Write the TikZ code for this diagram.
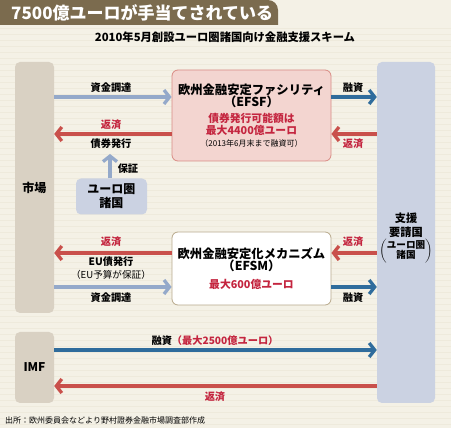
\documentclass[tikz,border=0pt]{standalone}
\usepackage{fontspec}
\setmainfont{Noto Sans CJK JP}
\usetikzlibrary{arrows.meta,positioning}
\definecolor{paper}{HTML}{F4F1E6}
\definecolor{paperline}{HTML}{EEEADC}
\definecolor{tabbrown}{HTML}{7B6B4E}
\definecolor{markettan}{HTML}{D9D1C3}
\definecolor{aidblue}{HTML}{CBD2E2}
\definecolor{efsfpink}{HTML}{F3D5D0}
\definecolor{efsfedge}{HTML}{D98B84}
\definecolor{efsmedge}{HTML}{B8A98C}
\definecolor{fundblue}{HTML}{94A9CA}
\definecolor{loanblue}{HTML}{2F6C9C}
\definecolor{repayred}{HTML}{C9504B}
\definecolor{labelred}{HTML}{C4253F}
\tikzset{
  pillar/.style={rounded corners=5pt,inner sep=0pt,font=\bfseries\fontsize{12}{14}\selectfont},
  fundbox/.style={rounded corners=6pt,inner sep=0pt,align=center},
  flowlabel/.style={inner sep=1pt,font=\bfseries\fontsize{10.2}{12}\selectfont},
  redlabel/.style={flowlabel,text=labelred},
  flow/.style={line width=3.3pt,-{Straight Barb[length=5.5pt,width=14pt]}},
  fundflow/.style={flow,draw=fundblue},
  loanflow/.style={flow,draw=loanblue},
  repayflow/.style={flow,draw=repayred}
}
\begin{document}
\begin{tikzpicture}[x=1pt,y=-1pt,line cap=butt,line join=miter]
  \useasboundingbox (0,0) rectangle (451,428);
  \fill[paper] (0,0) rectangle (451,428);
  \foreach \yy in {28,34,...,428}
    \draw[paperline,line width=0.4pt] (0,\yy) -- (451,\yy);
  % title tab
  \fill[tabbrown] (0,0) -- (268,0) arc[start angle=90,end angle=0,radius=10pt] -- (278,25) -- (0,25) -- cycle;
  \node[anchor=west,inner sep=0pt,text=white,font=\bfseries\fontsize{17}{17}\selectfont] (title) at (11,13) {7500億ユーロが手当てされている};
  \node[font=\bfseries\fontsize{11.3}{12}\selectfont] (subtitle) at (225,37) {2010年5月創設ユーロ圏諸国向け金融支援スキーム};
  % columns
  \node[pillar,fill=markettan,minimum width=39pt,minimum height=251pt] (market) at (34.5,187.5) {市場};
  \node[pillar,fill=markettan,minimum width=39pt,minimum height=71pt] (imf) at (34.5,367.5) {IMF};
  \node[pillar,fill=aidblue,minimum width=58pt,minimum height=341pt] (aid) at (406,232.5) {};
  \node[align=center,inner sep=0pt,font=\bfseries\fontsize{11.2}{14.5}\selectfont] (aidlabel) at (406,238)
    {支援\\要請国\\[0pt]{\fontsize{9.6}{10}\selectfont$\left(\begin{tabular}{@{}c@{}}ユーロ圏\\[-1pt]諸国\end{tabular}\right)$}};
  % boxes
  \node[fundbox,fill=efsfpink,draw=efsfedge,line width=0.8pt,minimum width=159pt,minimum height=91pt] (efsf) at (251.5,115.5)
    {{\bfseries\fontsize{12.3}{13}\selectfont 欧州金融安定ファシリティ}\\
     {\bfseries\fontsize{12.3}{13}\selectfont （EFSF）}\\[4pt]
     {\color{labelred}\bfseries\fontsize{10.8}{15}\selectfont 債券発行可能額は}\\
     {\color{labelred}\bfseries\fontsize{10.8}{15}\selectfont 最大4400億ユーロ}\\
     {\fontsize{8}{13}\selectfont （2013年6月末まで融資可）}};
  \node[fundbox,fill=aidblue,rounded corners=5pt,minimum width=71pt,minimum height=36pt,font=\bfseries\fontsize{12}{14}\selectfont] (eurozone) at (111.5,196.5)
    {ユーロ圏\\諸国};
  \node[fundbox,fill=white,draw=efsmedge,line width=0.8pt,minimum width=159pt,minimum height=73pt] (efsm) at (251.5,268.5)
    {{\bfseries\fontsize{12.3}{13}\selectfont 欧州金融安定化メカニズム}\\
     {\bfseries\fontsize{12.3}{13}\selectfont （EFSM）}\\[6pt]
     {\color{labelred}\bfseries\fontsize{10.8}{12}\selectfont 最大600億ユーロ}};
  % flow levels
  \coordinate (r1) at (0,97);
  \coordinate (r2) at (0,134);
  \coordinate (r3) at (0,253);
  \coordinate (r4) at (0,287);
  \coordinate (r5) at (0,350);
  \coordinate (r6) at (0,386);
  \coordinate (guarantee) at (110,154);
  % EFSF flows
  \draw[fundflow] (market.east |- r1) -- (efsf.west |- r1);
  \draw[repayflow] (efsf.west |- r2) -- (market.east |- r2);
  \draw[loanflow] (efsf.east |- r1) -- (aid.west |- r1);
  \draw[repayflow] (aid.west |- r2) -- (efsf.east |- r2);
  \draw[fundflow] (eurozone.north -| guarantee) -- (guarantee);
  \node[flowlabel] (l1) at (111,88) {資金調達};
  \node[redlabel] (l2) at (111,125) {返済};
  \node[flowlabel] (l3) at (111,144) {債券発行};
  \node[flowlabel] (l4) at (128,169) {保証};
  \node[flowlabel] (l5) at (353,88) {融資};
  \node[redlabel] (l6) at (353,144) {返済};
  % EFSM flows
  \draw[repayflow] (efsm.west |- r3) -- (market.east |- r3);
  \draw[fundflow] (market.east |- r4) -- (efsm.west |- r4);
  \draw[repayflow] (aid.west |- r3) -- (efsm.east |- r3);
  \draw[loanflow] (efsm.east |- r4) -- (aid.west |- r4);
  \node[redlabel] (l7) at (111,242) {返済};
  \node[flowlabel] (l8) at (111,262) {EU債発行};
  \node[inner sep=1pt,font=\fontsize{9.6}{11}\selectfont] (l9) at (111,275) {（EU予算が保証）};
  \node[flowlabel] (l10) at (111,298) {資金調達};
  \node[redlabel] (l11) at (353,242) {返済};
  \node[flowlabel] (l12) at (353,298) {融資};
  % IMF flows
  \draw[loanflow] (imf.east |- r5) -- (aid.west |- r5);
  \draw[repayflow] (aid.west |- r6) -- (imf.east |- r6);
  \node[flowlabel] (l13) at (215,341) {融資\textcolor{labelred}{（最大2500億ユーロ）}};
  \node[redlabel] (l14) at (215,397) {返済};
  \node[anchor=west,inner sep=0pt,font=\fontsize{8}{9}\selectfont] (source) at (5,420) {出所：欧州委員会などより野村證券金融市場調査部作成};
\end{tikzpicture}
\end{document}
